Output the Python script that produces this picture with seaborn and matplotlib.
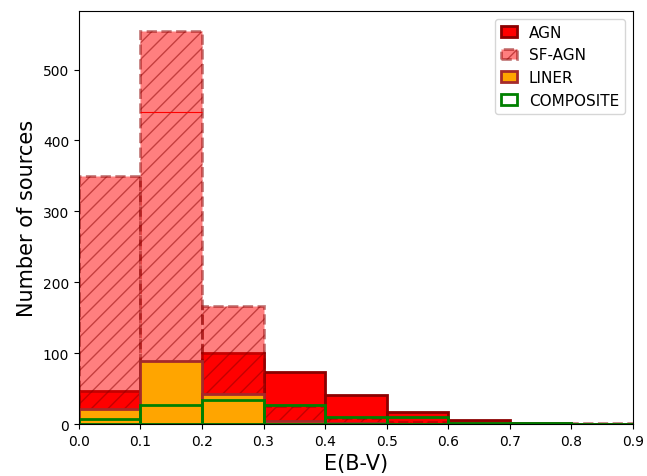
import numpy as np
import pandas as pd
import matplotlib
matplotlib.use("Agg")
import matplotlib.pyplot as plt
import seaborn as sns

# bin edges and counts
edges = np.round(np.arange(0, 0.91, 0.1), 2)
centers = (edges[:-1] + edges[1:]) / 2
agn = [46, 85, 100, 73, 41, 17, 6, 1, 0]
sf_agn = [350, 555, 166, 25, 8, 3, 1, 0, 2]
liner = [21, 89, 42, 4, 1, 0, 0, 0, 0]
composite = [7, 27, 34, 27, 10, 10, 2, 1, 0]
agn_mark = 440  # faint red line inside the SF-AGN bar at 0.1-0.2

df = pd.DataFrame({"ebv": centers, "AGN": agn, "SF-AGN": sf_agn,
                   "LINER": liner, "COMPOSITE": composite})
hist_kw = dict(x="ebv", binwidth=0.1, binrange=(0, 0.9), stat="count")

fig, ax = plt.subplots(figsize=(6.47, 4.77), dpi=100)
fig.subplots_adjust(left=0.122, right=0.978, top=0.975, bottom=0.109)

sns.histplot(df, weights="AGN", ax=ax, **hist_kw,
             color="red", edgecolor="darkred", linewidth=2, alpha=1, label="AGN")
sns.histplot(df, weights="SF-AGN", ax=ax, **hist_kw,
             facecolor=(1, 0, 0, 0.5), edgecolor=(0.545, 0, 0, 0.5), linewidth=2,
             linestyle="--", hatch="//", label="SF-AGN")
ax.hlines(agn_mark, edges[1], edges[2], color="red", linewidth=0.8)
sns.histplot(df, weights="LINER", ax=ax, **hist_kw,
             color="orange", edgecolor="brown", linewidth=2, alpha=1, label="LINER")
sns.histplot(df, weights="COMPOSITE", ax=ax, **hist_kw,
             fill=False, color="green", linewidth=2, label="COMPOSITE")

ax.set_xlim(0, 0.9)
ax.set_xticks(edges)
ax.set_xlabel("E(B-V)", fontsize=15)
ax.set_ylabel("Number of sources", fontsize=15)
ax.legend(loc="upper right", fontsize=11, handlelength=1.0)

plt.savefig("out.png", dpi=100)
